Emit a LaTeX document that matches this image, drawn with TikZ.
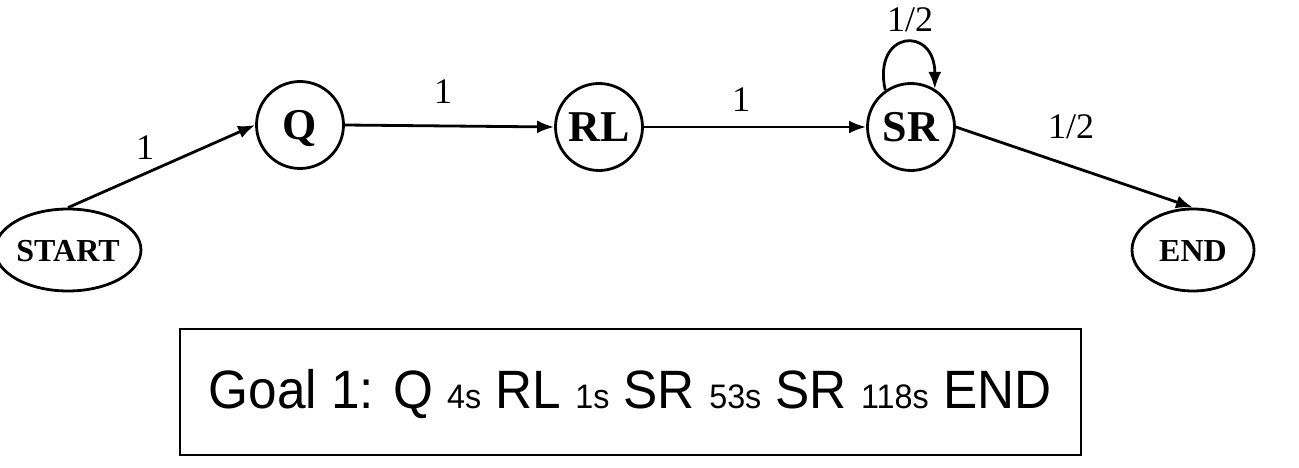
\documentclass[tikz,border=0pt]{standalone}
\usepackage{fontspec}
\setmainfont{Liberation Serif}
\newfontfamily\arialf{Liberation Sans}
\usetikzlibrary{shapes.geometric,arrows.meta}
\newcommand{\smalltxt}[1]{{\fontsize{34}{36}\selectfont #1}}
\begin{document}
\begin{tikzpicture}[x=1pt,y=-1pt,
  state/.style={circle,draw,line width=2.8pt,minimum size=87pt,inner sep=0pt,text height=29pt,text depth=0pt,font=\fontsize{44}{46}\selectfont\bfseries},
  term/.style={ellipse,draw,line width=2.8pt,minimum width=122pt,minimum height=82pt,inner sep=0pt,text height=22pt,text depth=0pt,font=\fontsize{32}{34}\selectfont\bfseries},
  edge/.style={line width=2.8pt,-{Latex[length=17pt,width=13pt]}},
  lbl/.style={font=\fontsize{36}{38}\selectfont,inner sep=0pt}]
\useasboundingbox (0,0) rectangle (1299,468);
\node[term] (start) at (68,250) {START};
\node[state] (q) at (300,125) {Q};
\node[state] (rl) at (599,127) {RL};
\node[state] (sr) at (911,127) {SR};
\node[term] (end) at (1193,250) {END};
\draw[edge] (start.north) -- (q.west);
\draw[edge] (q.east) -- (rl.west);
\draw[edge] (rl.east) -- (sr.west);
\draw[edge] (sr.east) -- (end.north);
\draw[edge] (sr.125) .. controls (872,30) and (935,25) .. (sr.58);
\node[lbl] (l1) at (145,148) {1};
\node[lbl] (l2) at (443,92) {1};
\node[lbl] (l3) at (741,100) {1};
\node[lbl] (l4) at (910,20) {1/2};
\node[lbl] (l5) at (1071,127) {1/2};
\node[draw,line width=1.6pt,minimum width=901pt,minimum height=126pt,inner sep=0pt] (goal) at (630.5,392) {};
\node[inner sep=0pt,xscale=0.95] (goaltxt) at (630,394) {\arialf\fontsize{54}{58}\selectfont Goal 1: Q \smalltxt{4s} RL \smalltxt{1s} SR \smalltxt{53s} SR \smalltxt{118s} END};
\end{tikzpicture}
\end{document}
